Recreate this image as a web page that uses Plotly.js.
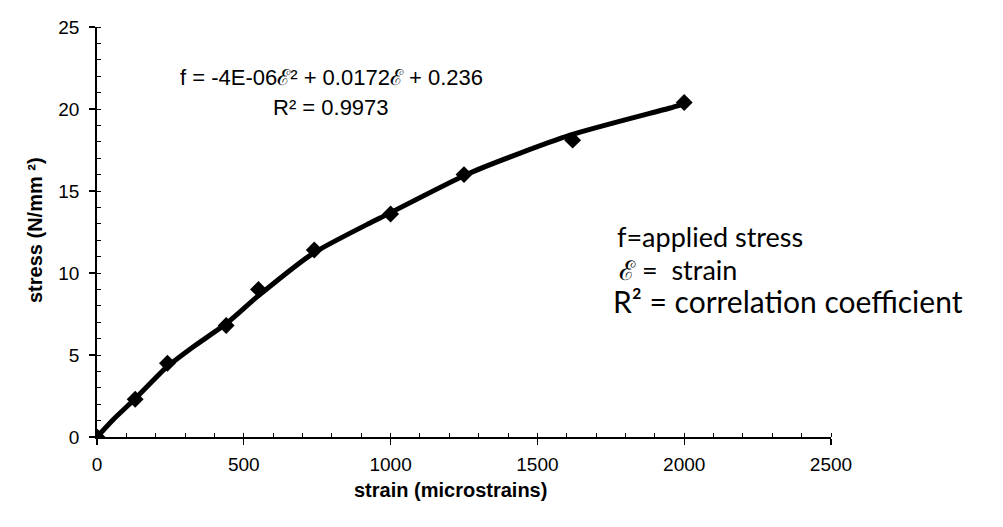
<!DOCTYPE html>
<html>
<head>
<meta charset="utf-8">
<script src="https://cdn.plot.ly/plotly-3.0.1.min.js"></script>
<style>html,body{margin:0;padding:0;background:#fff;}#chart{width:1003px;height:527px;}</style>
</head>
<body>
<div id="chart"></div>
<script>
// measured points
const strainPts = [0, 130, 240, 440, 550, 740, 1000, 1250, 1620, 2000];
const stressPts = [0, 2.3, 4.5, 6.8, 9.0, 11.4, 13.6, 16.0, 18.1, 20.4];
// trend line as drawn
const trendStrain = [0, 54, 136, 238, 327, 443, 545, 736, 930, 964, 1270, 1611, 1952, 1986, 2000];
const trendStress = [0, 1.04, 2.44, 4.27, 5.49, 6.95, 8.54, 11.2, 13.05, 13.35, 16.1, 18.4, 20.06, 20.24, 20.4];
// tick values and labels
const xTicks = [0, 500, 1000, 1500, 2000, 2500];
const yTicks = [0, 5, 10, 15, 20, 25];
const xTitle = "strain (microstrains)";
const yTitle = "stress (N/mm \u00b2)";
const eqText = "f = -4E-06\u2130\u00b2 + 0.0172\u2130 + 0.236";
const r2Text = "R\u00b2 = 0.9973";
const noteLines = ["f=applied stress", "\u2130 =  strain", "R\u00b2 = correlation coefficient"];

const font = "Liberation Sans, Arial, sans-serif";
const hand = "Lato, Open Sans, sans-serif";

const traces = [
  {x: strainPts, y: stressPts, mode: "markers", type: "scatter",
   marker: {symbol: "diamond", size: 13, color: "#000"}, hoverinfo: "skip"},
  {x: trendStrain, y: trendStress, mode: "lines", type: "scatter",
   line: {color: "#000", width: 5, shape: "spline", smoothing: 0.6}, hoverinfo: "skip"}
];

const layout = {
  width: 1003, height: 527,
  margin: {l: 97, r: 172, t: 27, b: 90},
  paper_bgcolor: "#fff", plot_bgcolor: "#fff",
  showlegend: false,
  font: {family: font, color: "#000"},
  xaxis: {
    range: [0, 2500], tickvals: xTicks, ticktext: xTicks.map(String),
    showgrid: false, zeroline: false, showline: true, linecolor: "#000", linewidth: 1.8,
    ticks: "outside", ticklen: 6, tickwidth: 1.2, tickcolor: "#000",
    minor: {dtick: 100, ticks: "inside", ticklen: 4, tickcolor: "#000", tickwidth: 1, showgrid: false},
    tickfont: {family: font, size: 19, color: "#000"}, ticklabelstandoff: 3
  },
  yaxis: {
    range: [0, 25], tickvals: yTicks, ticktext: yTicks.map(String),
    showgrid: false, zeroline: false, showline: true, linecolor: "#000", linewidth: 1.8,
    ticks: "outside", ticklen: 6, tickwidth: 1.2, tickcolor: "#000",
    minor: {dtick: 1, ticks: "inside", ticklen: 4, tickcolor: "#000", tickwidth: 1, showgrid: false},
    tickfont: {family: font, size: 19, color: "#000"}, ticklabelstandoff: 6
  },
  annotations: [
    {x: 450, y: 490, xref: "paper", yref: "paper", text: "<b>" + xTitle + "</b>", showarrow: false,
     font: {family: font, size: 20, color: "#000"}, xanchor: "center", yanchor: "middle"},
    {x: 35, y: 230, text: "<b>" + yTitle + "</b>", showarrow: false, textangle: -90,
     font: {family: font, size: 20, color: "#000"}, xanchor: "center", yanchor: "middle"},
    {x: 797, y: 21.9, xref: "x", yref: "y", text: eqText, showarrow: false,
     font: {family: font, size: 22, color: "#000"}, xanchor: "center", yanchor: "middle"},
    {x: 797, y: 20.1, xref: "x", yref: "y", text: r2Text, showarrow: false,
     font: {family: font, size: 22, color: "#000"}, xanchor: "center", yanchor: "middle"},
    {x: 1765, y: 12.2, xref: "x", yref: "y", text: noteLines[0], showarrow: false,
     font: {family: hand, size: 27, color: "#000"}, xanchor: "left", yanchor: "middle"},
    {x: 1770, y: 10.2, xref: "x", yref: "y", text: noteLines[1], showarrow: false,
     font: {family: hand, size: 27, color: "#000"}, xanchor: "left", yanchor: "middle"},
    {x: 1750, y: 8.3, xref: "x", yref: "y", text: noteLines[2], showarrow: false,
     font: {family: hand, size: 30, color: "#000"}, xanchor: "left", yanchor: "middle"}
  ]
};
// pixel-positioned annotations (titles) converted to paper fractions
const pw = 1003 - 97 - 172, ph = 527 - 27 - 90;
layout.annotations[0].x = (450 - 97) / pw;
layout.annotations[0].y = (527 - 90 - 490) / ph;
layout.annotations[1].xref = "paper"; layout.annotations[1].yref = "paper";
layout.annotations[1].x = (35 - 97) / pw;
layout.annotations[1].y = (527 - 90 - 230) / ph;

Plotly.newPlot("chart", traces, layout, {staticPlot: true, displayModeBar: false});
</script>
</body>
</html>
